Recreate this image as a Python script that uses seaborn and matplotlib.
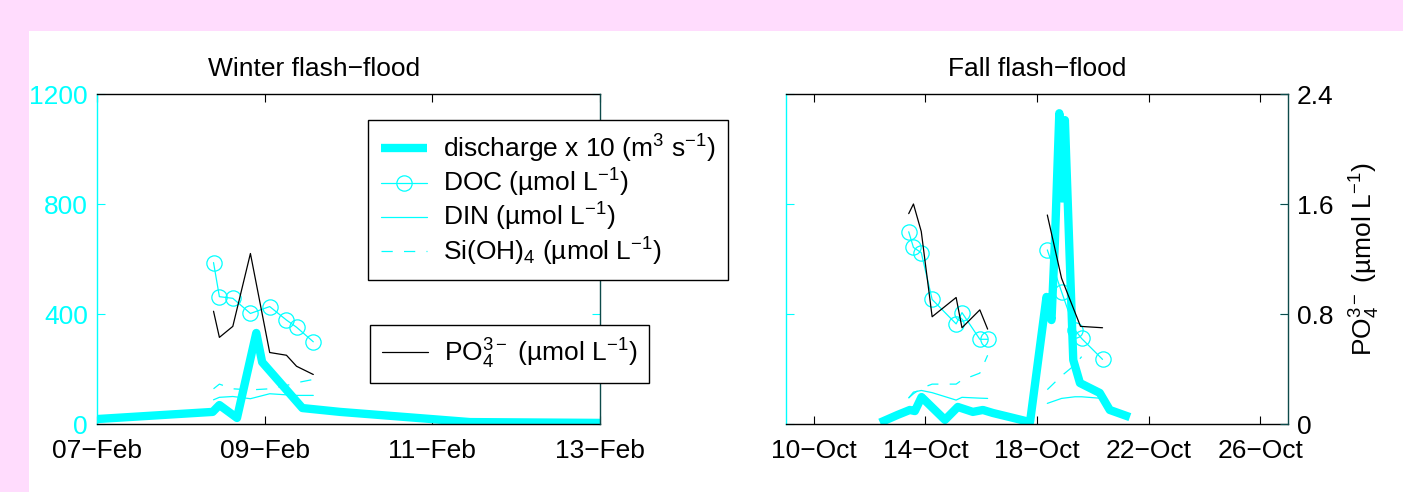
import numpy as np
import pandas as pd
import matplotlib
matplotlib.use("Agg")
import matplotlib.pyplot as plt
import seaborn as sns
from matplotlib.patches import Rectangle

# ------------------------------------------------------------------ data
winter_title = "Winter flash−flood"
fall_title = "Fall flash−flood"

winter_xticks = [7, 9, 11, 13]
winter_xticklabels = ["07−Feb", "09−Feb", "11−Feb", "13−Feb"]
fall_xticks = [10, 14, 18, 22, 26]
fall_xticklabels = ["10−Oct", "14−Oct", "18−Oct", "22−Oct", "26−Oct"]
left_yticks = [0, 400, 800, 1200]
left_yticklabels = ["0", "400", "800", "1200"]
right_yticks = [0, 0.8, 1.6, 2.4]
right_yticklabels = ["0", "0.8", "1.6", "2.4"]

# Winter event (day of February)
w_q_day = [7.0, 8.38, 8.46, 8.67, 8.90, 8.97, 9.45, 9.90, 11.45, 13.0]
w_q = [18, 44, 69, 22, 331, 225, 58, 44, 7, 4]
w_s_day = [8.39, 8.46, 8.62, 8.83, 9.06, 9.26, 9.38, 9.58]
w_doc = [587, 463, 457, 402, 427, 378, 352, 299]
w_din = [88, 97, 100, 92, 110, 106, 104, 104]
w_si = [128, 145, 128, 124, 128, 140, 150, 162]
w_po4 = [0.82, 0.63, 0.71, 1.24, 0.52, 0.50, 0.42, 0.36]

# Fall event (day of October)
f_q_day = [12.37, 13.0, 13.44, 13.62, 13.86, 14.70, 15.16, 15.70, 16.06, 16.42,
           17.03, 17.75, 18.34, 18.52, 18.64, 18.80, 18.90, 19.0, 19.30, 19.54,
           20.25, 20.61, 21.33]
f_q = [5, 33, 51, 47, 98, 15, 62, 44, 51, 40,
       25, 7, 462, 378, 658, 1130, 820, 1105, 233, 149,
       113, 51, 25]
f_s1_day = [13.40, 13.57, 13.85, 14.24, 15.10, 15.31, 15.95, 16.23]
f_doc1 = [699, 642, 623, 453, 364, 405, 308, 308]
f_din1 = [95, 116, 122, 114, 87, 97, 94, 93]
f_si1 = [95, 110, 130, 145, 145, 160, 185, 250]
f_po4_1 = [1.53, 1.60, 1.40, 0.78, 0.92, 0.70, 0.83, 0.69]
f_s2_day = [18.37, 18.88, 19.36, 19.60, 20.35]
f_doc2 = [633, 481, 342, 311, 235]
f_din2 = [75, 93, 99, 99, 93]
f_si2_day = [18.37, 18.88, 19.36, 19.60]
f_si2 = [125, 175, 215, 245]
f_po4_2_day = [18.37, 18.88, 19.56, 20.35]
f_po4_2 = [1.52, 1.06, 0.71, 0.70]

lab_q = "discharge x 10 (m$^3$ s$^{-1}$)"
lab_doc = "DOC (µmol L$^{-1}$)"
lab_din = "DIN (µmol L$^{-1}$)"
lab_si = "Si(OH)$_4$ (µmol L$^{-1}$)"
lab_po4 = "PO$_4^{3-}$ (µmol L$^{-1}$)"
ylab_po4 = "PO$_4^{3-}$ (µmol L$^{-1}$)"

# ------------------------------------------------------------------ style
sns.set_style("white")
plt.rcParams["font.family"] = ["Liberation Sans", "DejaVu Sans"]
plt.rcParams["mathtext.fontset"] = "custom"
plt.rcParams["mathtext.rm"] = "Liberation Sans"
plt.rcParams["mathtext.it"] = "Liberation Sans:italic"
plt.rcParams["mathtext.bf"] = "Liberation Sans:bold"
plt.rcParams["axes.unicode_minus"] = True
plt.rcParams["text.color"] = "black"
plt.rcParams["axes.labelcolor"] = "black"
plt.rcParams["axes.titlecolor"] = "black"
plt.rcParams["legend.labelcolor"] = "black"

CYAN = "#00ffff"
TEAL = "#0d4a4a"
PINK = "#ffdcfd"
FS = 19
W, H = 1403, 492


def frame(day, val, event=1):
    return pd.DataFrame({"day": day, "val": val, "event": [event] * len(day)})


def draw(ax, df, **kw):
    n = len(ax.lines)
    sns.lineplot(data=df, x="day", y="val", units="event", estimator=None,
                 sort=False, ax=ax, legend=False, **kw)
    return ax.lines[n]


q_kw = dict(color=CYAN, linewidth=6, solid_joinstyle="round", solid_capstyle="butt")
doc_kw = dict(color=CYAN, linewidth=0.9, marker="o", markersize=11,
              markerfacecolor="none", markeredgecolor=CYAN, markeredgewidth=0.9)
din_kw = dict(color=CYAN, linewidth=0.9)
si_kw = dict(color=CYAN, linewidth=0.9, linestyle=(0, (9, 9)))
po4_kw = dict(color="black", linewidth=0.9)

fig = plt.figure(figsize=(W / 100, H / 100), dpi=100, facecolor=PINK)
fig.add_artist(Rectangle((29 / W, 0), 1, (H - 31) / H, transform=fig.transFigure,
                         facecolor="white", edgecolor="none", zorder=-10))

bottom = (H - 424) / H
height = (424 - 94) / H
axL = fig.add_axes([97 / W, bottom, (600 - 97) / W, height])
axR = fig.add_axes([786 / W, bottom, (1288 - 786) / W, height])


def style_axes(ax1, ax2, xticks, xlabels, xlim, show_left_labels, show_right):
    ax1.set_xlim(*xlim)
    ax1.set_ylim(0, 1200)
    ax2.set_ylim(0, 2.4)
    ax1.set_xticks(xticks)
    ax1.set_xticklabels(xlabels)
    ax1.set_yticks(left_yticks)
    ax1.set_yticklabels(left_yticklabels)
    ax1.set_xlabel("")
    ax1.set_ylabel("")
    ax2.set_xlabel("")
    ax2.set_ylabel("")
    for s in ("top", "bottom"):
        ax1.spines[s].set_color("black")
        ax1.spines[s].set_linewidth(1.0)
        ax2.spines[s].set_visible(False)
    ax1.spines["left"].set_color(CYAN)
    ax1.spines["left"].set_linewidth(1.0)
    ax1.spines["right"].set_visible(False)
    ax2.spines["left"].set_visible(False)
    ax2.spines["right"].set_color(TEAL)
    ax2.spines["right"].set_linewidth(1.0)
    ax2.spines["right"].set_visible(True)
    ax1.tick_params(axis="x", direction="in", top=True, bottom=True, length=6,
                    width=0.8, colors="black", labelsize=FS, pad=11)
    ax1.tick_params(axis="y", direction="in", left=True, right=True, length=6,
                    width=0.8, colors=CYAN, labelsize=FS, pad=6.5,
                    labelleft=show_left_labels)
    if show_right:
        ax2.set_yticks(right_yticks)
        ax2.set_yticklabels(right_yticklabels)
        ax2.tick_params(axis="y", direction="in", right=True, length=6, width=0.8,
                        color=TEAL, labelcolor="black", labelsize=FS, pad=6.5)
    else:
        ax2.tick_params(axis="y", right=False, labelright=False, left=False,
                        labelleft=False)
    ax1.grid(False)
    ax2.grid(False)


# ------------------------------------------------------------------ winter panel
axL2 = axL.twinx()
hq = draw(axL, frame(w_q_day, w_q), **q_kw)
hdoc = draw(axL, frame(w_s_day, w_doc), **doc_kw)
hdin = draw(axL, frame(w_s_day, w_din), **din_kw)
hsi = draw(axL, frame(w_s_day, w_si), **si_kw)
hpo4 = draw(axL2, frame(w_s_day, w_po4), **po4_kw)
style_axes(axL, axL2, winter_xticks, winter_xticklabels, (7, 13), True, False)
axL.set_title(winter_title, fontsize=FS, color="black",
              x=(314 - 97) / (600 - 97), pad=13)

leg1 = axL2.legend([hq, hdoc, hdin, hsi], [lab_q, lab_doc, lab_din, lab_si],
                   loc="upper left", bbox_to_anchor=(368 / W, 1 - 120 / H),
                   bbox_transform=fig.transFigure, borderaxespad=0, fontsize=FS,
                   frameon=True, fancybox=False, framealpha=1, edgecolor="black",
                   handlelength=1.75, handletextpad=0.6, borderpad=0.48,
                   labelspacing=0.08)
leg1.get_frame().set_linewidth(1.0)
axL2.add_artist(leg1)
leg2 = axL2.legend([hpo4], [lab_po4],
                   loc="upper left", bbox_to_anchor=(370 / W, 1 - 325 / H),
                   bbox_transform=fig.transFigure, borderaxespad=0, fontsize=FS,
                   frameon=True, fancybox=False, framealpha=1, edgecolor="black",
                   handlelength=1.75, handletextpad=0.6, borderpad=0.45)
leg2.get_frame().set_linewidth(1.0)

# ------------------------------------------------------------------ fall panel
axR2 = axR.twinx()
draw(axR, frame(f_q_day, f_q), **q_kw)
draw(axR, pd.concat([frame(f_s1_day, f_doc1, 1), frame(f_s2_day, f_doc2, 2)]), **doc_kw)
draw(axR, pd.concat([frame(f_s1_day, f_din1, 1), frame(f_s2_day, f_din2, 2)]), **din_kw)
draw(axR, pd.concat([frame(f_s1_day, f_si1, 1), frame(f_si2_day, f_si2, 2)]), **si_kw)
draw(axR2, pd.concat([frame(f_s1_day, f_po4_1, 1), frame(f_po4_2_day, f_po4_2, 2)]), **po4_kw)
style_axes(axR, axR2, fall_xticks, fall_xticklabels, (9, 27), False, True)
axR.set_title(fall_title, fontsize=FS, color="black", pad=13)
axR2.set_ylabel(ylab_po4, fontsize=FS, color="black", labelpad=10)

fig.savefig("out.png", dpi=100, facecolor=fig.get_facecolor())
